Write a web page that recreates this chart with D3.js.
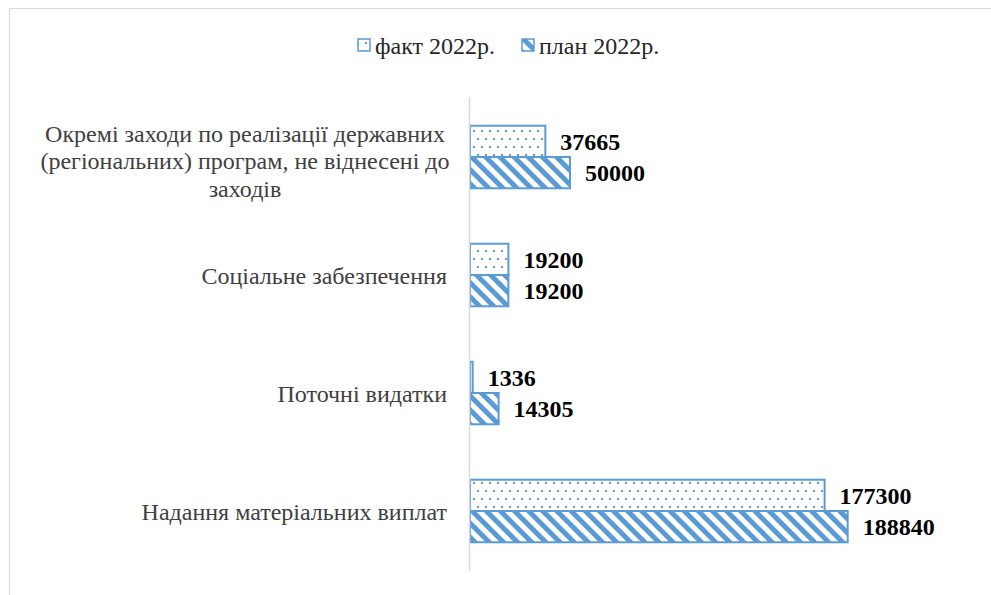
<!DOCTYPE html>
<html>
<head>
<meta charset="utf-8">
<script src="https://cdn.jsdelivr.net/npm/d3@7"></script>
<style>
  body { margin: 0; background: #fff; }
  text { font-family: "Liberation Serif", "Times New Roman", serif; }
</style>
</head>
<body>
<script>
// data
let categories = [
  "Надання матеріальних виплат",
  "Поточні видатки",
  "Соціальне забезпечення",
  "Окремі заходи по реалізації державних (регіональних) програм, не віднесені до заходів"
];
let catLines = [
  ["Надання матеріальних виплат"],
  ["Поточні видатки"],
  ["Соціальне забезпечення"],
  ["Окремі заходи по реалізації державних", "(регіональних) програм, не віднесені до", "заходів"]
];
let seriesNames = ["факт 2022р.", "план 2022р."];
let fact2022 = [177300, 1336, 19200, 37665];
let plan2022 = [188840, 14305, 19200, 50000];

let w = 991, h = 595;
let blue = "#5b9bd5";

let svg = d3.select("body").append("svg")
  .attr("width", w)
  .attr("height", h);

let defs = svg.append("defs");

// dotted pattern for fact
let dots = defs.append("pattern")
  .attr("id", "dots")
  .attr("patternUnits", "userSpaceOnUse")
  .attr("width", 8).attr("height", 16);
dots.append("rect").attr("width", 8).attr("height", 16).attr("fill", "#fff");
dots.append("rect").attr("x", 1).attr("y", 2).attr("width", 2).attr("height", 2).attr("fill", blue);
dots.append("rect").attr("x", 5).attr("y", 10).attr("width", 2).attr("height", 2).attr("fill", blue);

// wide downward diagonal for plan
let diag = defs.append("pattern")
  .attr("id", "diag")
  .attr("patternUnits", "userSpaceOnUse")
  .attr("width", 10).attr("height", 10)
  .attr("patternTransform", "rotate(-45)");
diag.append("rect").attr("width", 10).attr("height", 10).attr("fill", "#fff");
diag.append("rect").attr("width", 5).attr("height", 10).attr("fill", blue);

// outer border
svg.append("rect")
  .attr("x", 9.5).attr("y", 8.5)
  .attr("width", 1000).attr("height", 700)
  .attr("fill", "none")
  .attr("stroke", "#d9d9d9");

let x0 = 470;
let xScale = d3.scaleLinear()
  .domain([0, 200000])
  .range([x0, 870]);

let yScale = d3.scaleBand()
  .domain(d3.range(categories.length).reverse())
  .range([98, 570])
  .paddingInner(0.47)
  .paddingOuter(0.235);

let sub = d3.scaleBand()
  .domain([0, 1])
  .range([0, yScale.bandwidth()]);

let series = [fact2022, plan2022];
let fills = ["url(#dots)", "url(#diag)"];

series.forEach((vals, s) => {
  svg.append("g").selectAll("rect")
    .data(vals)
    .enter()
    .append("rect")
    .attr("x", x0)
    .attr("y", (d, i) => yScale(i) + sub(s))
    .attr("width", d => xScale(d) - x0)
    .attr("height", sub.bandwidth())
    .attr("fill", fills[s])
    .attr("stroke", blue)
    .attr("stroke-width", 2);

  svg.append("g").selectAll("text")
    .data(vals)
    .enter()
    .append("text")
    .attr("x", d => xScale(d) + 15)
    .attr("y", (d, i) => yScale(i) + sub(s) + sub.bandwidth() / 2)
    .attr("dy", "0.35em")
    .attr("font-size", 24)
    .attr("font-weight", "bold")
    .attr("fill", "#000")
    .text(d => d);
});

// vertical axis line
svg.append("line")
  .attr("x1", 469.5).attr("x2", 469.5)
  .attr("y1", 97).attr("y2", 571)
  .attr("stroke", "#d9d9d9")
  .attr("stroke-width", 1.5);

// category labels
let lh = 27.5;
catLines.forEach((lines, i) => {
  let cy = yScale(i) + yScale.bandwidth() / 2;
  let multi = lines.length > 1;
  let t = svg.append("text")
    .attr("font-size", 24)
    .attr("fill", "#404040")
    .attr("text-anchor", multi ? "middle" : "end");
  lines.forEach((ln, j) => {
    t.append("tspan")
      .attr("x", multi ? 245 : 447)
      .attr("y", cy + (j - (lines.length - 1) / 2) * lh + (multi ? 4 : 1))
      .attr("dy", "0.35em")
      .text(ln);
  });
});

// legend
let legend = svg.append("g");
let legX = [358, 522];
seriesNames.forEach((name, s) => {
  legend.append("rect")
    .attr("x", legX[s]).attr("y", 39)
    .attr("width", 12).attr("height", 12)
    .attr("fill", fills[s])
    .attr("stroke", blue)
    .attr("stroke-width", 1.5);
  legend.append("text")
    .attr("x", legX[s] + 17)
    .attr("y", 46)
    .attr("dy", "0.35em")
    .attr("font-size", 24)
    .attr("fill", "#262626")
    .text(name);
});
</script>
</body>
</html>
